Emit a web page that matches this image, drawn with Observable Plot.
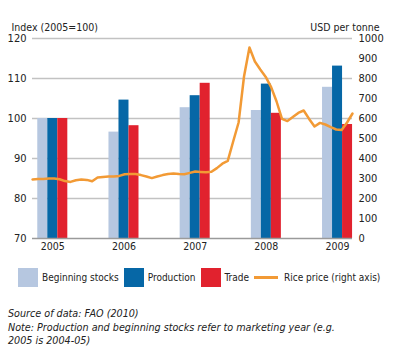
<!DOCTYPE html>
<html>
<head>
<meta charset="utf-8">
<script src="https://cdn.jsdelivr.net/npm/d3@7"></script>
<script src="https://cdn.jsdelivr.net/npm/@observablehq/plot@0.6"></script>
<style>
  body { margin: 0; background: #fff; }
  #wrap { width: 396px; font-family: "DejaVu Sans Condensed", "DejaVu Sans", sans-serif; color: #222; }
  .legend { display: flex; align-items: center; font-size: 10px; margin: 8px 0 0 18px; height: 19px; }
  .legend .sw { width: 20px; height: 19px; margin-right: 4px; }
  .legend .ln { width: 24px; height: 3px; margin-right: 6px; }
  .legend .it { display: flex; align-items: center; margin-right: 5px; }
  .notes { font-style: italic; font-size: 10.7px; line-height: 13.5px; margin: 20px 0 0 8px; color: #222; }
</style>
</head>
<body>
<div id="wrap"></div>
<script>
const years = [2005, 2006, 2007, 2008, 2009];
const beginningStocks = [100, 96.6, 102.7, 102.0, 107.8];
const production = [100, 104.6, 105.7, 108.6, 113.1];
const trade = [100, 98.2, 108.8, 101.3, 98.5];
// monthly rice price, USD per tonne (Jan 2005 .. Dec 2009)
const ricePrice = [
  295, 297, 298, 300, 300, 296, 287, 283, 291, 295, 293, 286,
  305, 308, 310, 310, 313, 321, 323, 322, 317, 310, 302, 310,
  317, 322, 325, 322, 321, 328, 335, 333, 331, 334, 352, 374,
  388, 485, 580, 810, 955, 885, 845, 808, 757, 685, 598, 587,
  607, 628, 640, 598, 560, 578, 570, 557, 545, 542, 580, 625
];
const indexTicks = [70, 80, 90, 100, 110, 120];
const priceTicks = [0, 100, 200, 300, 400, 500, 600, 700, 800, 900, 1000];
const seriesNames = ["Beginning stocks", "Production", "Trade"];
const seriesColors = ["#b6c7e0", "#0667a6", "#e1222e"];
const lineColor = "#f29a35";

const xStart = 2004.715, xEnd = 2009.21, barW = 0.1406;
const toIndex = p => 70 + p / 20;          // right axis -> left axis units
const toPrice = v => Math.round((v - 70) * 20);

const bars = [];
[beginningStocks, production, trade].forEach((vals, k) => {
  vals.forEach((v, i) => {
    const c = years[i] - 1.5 * barW + k * barW;
    bars.push({series: seriesNames[k], year: years[i], value: v, x1: c, x2: c + barW});
  });
});
const line = ricePrice.map((p, i) => ({x: xStart + i * (xEnd - xStart) / (ricePrice.length - 1), y: toIndex(p), price: p}));

const chart = Plot.plot({
  width: 396,
  height: 260,
  marginLeft: 32,
  marginRight: 44,
  marginTop: 38,
  marginBottom: 22,
  style: {fontFamily: "'DejaVu Sans Condensed', 'DejaVu Sans', sans-serif", fontSize: "11px", color: "#222"},
  x: {domain: [xStart, xEnd]},
  y: {domain: [70, 120]},
  color: {domain: seriesNames, range: seriesColors},
  marks: [
    Plot.ruleY([80, 90, 100, 110, 120], {stroke: "#c2c2c2", strokeWidth: 1.5}),
    Plot.rect(bars, {x1: "x1", x2: "x2", y1: 70, y2: "value", fill: "series"}),
    Plot.ruleY([70], {stroke: "#9a9a9a", strokeWidth: 1.5}),
    Plot.line(line, {x: "x", y: "y", stroke: lineColor, strokeWidth: 2.5, curve: "linear"}),
    Plot.axisY(indexTicks, {anchor: "left", tickSize: 0, tickPadding: 6, label: null}),
    Plot.axisY(priceTicks.map(toIndex), {anchor: "right", tickSize: 0, tickPadding: 6, tickFormat: d => String(toPrice(d)), label: null}),
    Plot.axisX(years, {tickSize: 0, tickPadding: 4, tickFormat: d => String(d), label: null, fontSize: 10.5}),
    Plot.text(["Index (2005=100)"], {frameAnchor: "top-left", dx: -21, dy: -15, textAnchor: "start", fontSize: 10.5}),
    Plot.text(["USD per tonne"], {frameAnchor: "top-right", dx: 27, dy: -15, textAnchor: "end", fontSize: 10.5})
  ]
});

const wrap = document.getElementById("wrap");
wrap.appendChild(chart);

const legend = document.createElement("div");
legend.className = "legend";
seriesNames.forEach((n, k) => {
  const it = document.createElement("div");
  it.className = "it";
  it.innerHTML = `<span class="sw" style="background:${seriesColors[k]}"></span><span>${n}</span>`;
  legend.appendChild(it);
});
const li = document.createElement("div");
li.className = "it";
li.innerHTML = `<span class="ln" style="background:${lineColor}"></span><span>Rice price (right axis)</span>`;
legend.appendChild(li);
wrap.appendChild(legend);

const notes = document.createElement("div");
notes.className = "notes";
notes.innerHTML = "Source of data: FAO (2010)<br>Note: Production and beginning stocks refer to marketing year (e.g.<br>2005 is 2004-05)";
wrap.appendChild(notes);
</script>
</body>
</html>
